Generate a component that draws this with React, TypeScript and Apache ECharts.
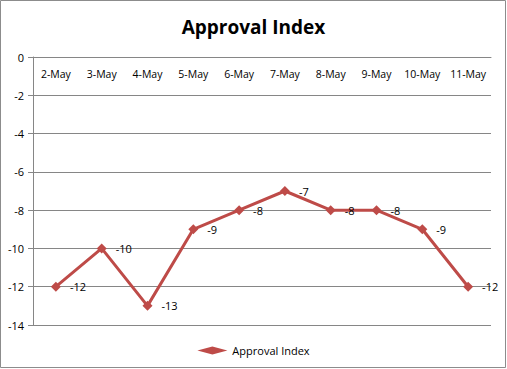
import React, { useEffect, useRef } from "react";
import * as echarts from "echarts";

const categories = ["2-May", "3-May", "4-May", "5-May", "6-May", "7-May", "8-May", "9-May", "10-May", "11-May"];
const approvalValues = [-12, -10, -13, -9, -8, -7, -8, -8, -9, -12];
const seriesName = "Approval Index";
const titleText = "Approval Index";

export default function App() {
  const ref = useRef<HTMLDivElement>(null);
  useEffect(() => {
    document.body.style.margin = "0";
    const chart = echarts.init(ref.current!, undefined, { renderer: "svg" });
    const font = "'Open Sans', 'DejaVu Sans', sans-serif";
    chart.setOption({
      animation: false,
      backgroundColor: "#ffffff",
      title: {
        text: titleText,
        left: "center",
        top: 12,
        textStyle: { fontSize: 19, fontWeight: "bold", color: "#000", fontFamily: font },
      },
      graphic: [
        {
          type: "rect",
          shape: { x: 0.5, y: 0.5, width: 505, height: 367 },
          style: { fill: "none", stroke: "#8c8c8c", lineWidth: 1 },
          silent: true,
        },
      ],
      legend: {
        bottom: 8,
        left: "center",
        itemWidth: 30,
        itemHeight: 8,
        textStyle: { fontSize: 11, color: "#000", fontFamily: font },
        data: [{ name: seriesName, icon: "diamond" }],
      },
      grid: { left: 33, right: 16, top: 57, bottom: 44 },
      xAxis: {
        type: "category",
        position: "top",
        data: categories,
        boundaryGap: true,
        axisLine: { lineStyle: { color: "#868686" } },
        axisTick: { inside: true, length: 5, lineStyle: { color: "#868686" } },
        axisLabel: {
          inside: true,
          interval: 0,
          margin: 11,
          fontSize: 10.5,
          color: "#000",
          fontFamily: font,
          align: "center",
          verticalAlign: "top",
        },
        splitLine: { show: false },
      },
      yAxis: {
        type: "value",
        min: -14,
        max: 0,
        interval: 2,
        axisLine: { show: true, lineStyle: { color: "#868686" } },
        axisTick: { show: true, length: 5, lineStyle: { color: "#868686" } },
        axisLabel: { fontSize: 11, color: "#000", fontFamily: font, margin: 9 },
        splitLine: { show: true, lineStyle: { color: "#868686" } },
      },
      series: [
        {
          name: seriesName,
          type: "line",
          data: approvalValues,
          symbol: "diamond",
          symbolSize: 10,
          itemStyle: { color: "#BE4B48" },
          lineStyle: { color: "#BE4B48", width: 3 },
          label: {
            show: true,
            position: "right",
            distance: 9,
            fontSize: 11,
            color: "#000",
            fontFamily: font,
          },
        },
      ],
    });
    return () => chart.dispose();
  }, []);
  return <div ref={ref} style={{ width: 507, height: 369 }} />;
}
